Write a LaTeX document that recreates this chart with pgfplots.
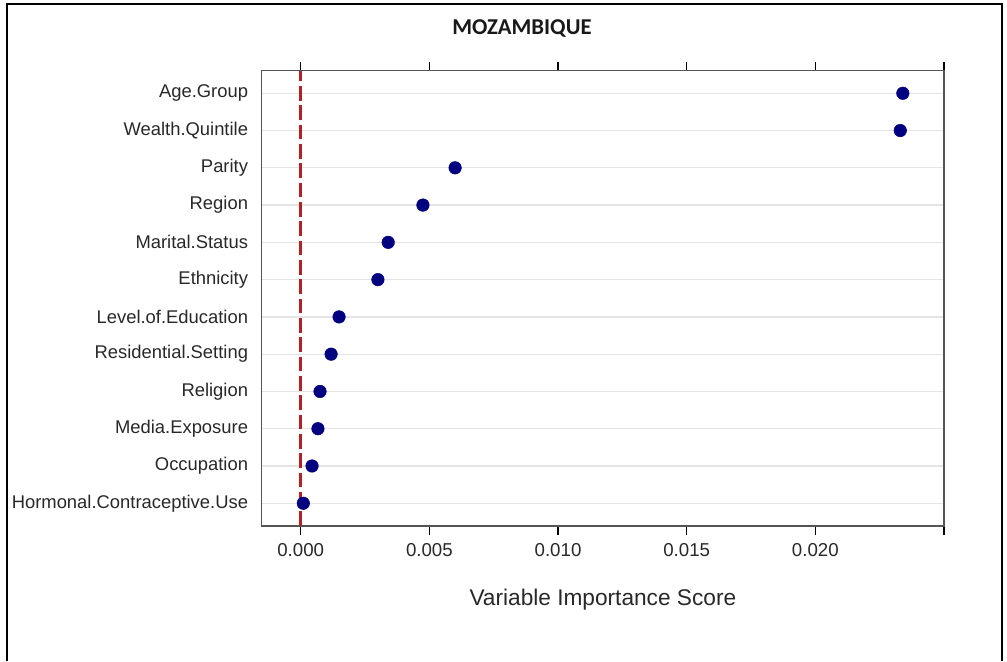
\documentclass[border=0pt]{standalone}
\usepackage{pgfplots}
\pgfplotsset{compat=1.18}
\usepackage{fontspec}
\setmainfont{Liberation Sans}
\newfontfamily\titlefont{Carlito}
\definecolor{dotblue}{RGB}{0,0,128}
\definecolor{refred}{RGB}{178,34,34}
\definecolor{gridgray}{RGB}{228,228,228}
\definecolor{boxgray}{RGB}{85,85,85}
\definecolor{txt}{RGB}{40,40,40}

\begin{document}
\begin{tikzpicture}
\useasboundingbox (0,0) rectangle (755.25pt,495.75pt);
% outer frame, open at the bottom
\draw[line width=1.3pt,black] (5pt,0) -- (5pt,493pt) -- (751.5pt,493pt) -- (751.5pt,0);
\node[font=\titlefont\bfseries\fontsize{17}{19}\selectfont,text=black!90] at (391.5pt,474.75pt) {MOZAMBIQUE};
\begin{axis}[
  at={(196.3pt,101.25pt)},anchor=south west,
  scale only axis,width=511.7pt,height=341.6pt,
  xmin=-0.001515,xmax=0.025,ymin=0.39,ymax=12.61,
  axis line style={boxgray,line width=1.1pt},
  tick align=outside,major tick length=6.75pt,
  xtick pos=both,xticklabel pos=lower,
  scaled x ticks=false,
  xtick={0,0.005,0.01,0.015,0.02,0.025},
  xticklabels={0.000,0.005,0.010,0.015,0.020,{}},
  xtick style={black,line width=0.8pt},
  xticklabel style={font=\fontsize{14}{16}\selectfont,text=txt},
  xticklabel shift=3pt,
  /pgf/number format/assume math mode=true,
  ytick={1,...,12},
  yticklabels={Hormonal.Contraceptive.Use,Occupation,Media.Exposure,Religion,Residential.Setting,Level.of.Education,Ethnicity,Marital.Status,Region,Parity,Wealth.Quintile,Age.Group},
  ytick style={draw=none},
  yticklabel style={font=\fontsize{13.8}{15}\selectfont,text=txt},
  ymajorgrids,
  major grid style={gridgray,line width=1pt},
  xlabel={Variable Importance Score},
  xlabel style={at={(axis description cs:0.5,0)},anchor=center,yshift=-55pt,font=\fontsize{17}{19}\selectfont,text=txt},
]
\addplot[refred,line width=2pt,dash pattern=on 11pt off 3.5pt] coordinates {(0,0.39) (0,12.61)};
\addplot[only marks,mark=*,mark size=4.7pt,dotblue,mark options={fill=dotblue,draw=dotblue}] coordinates {
(0.0234,12) (0.0233,11) (0.0060,10) (0.00475,9) (0.0034,8) (0.0030,7)
(0.00149,6) (0.00118,5) (0.00075,4) (0.00067,3) (0.00044,2) (0.0001,1)};
\end{axis}
\end{tikzpicture}
\end{document}
